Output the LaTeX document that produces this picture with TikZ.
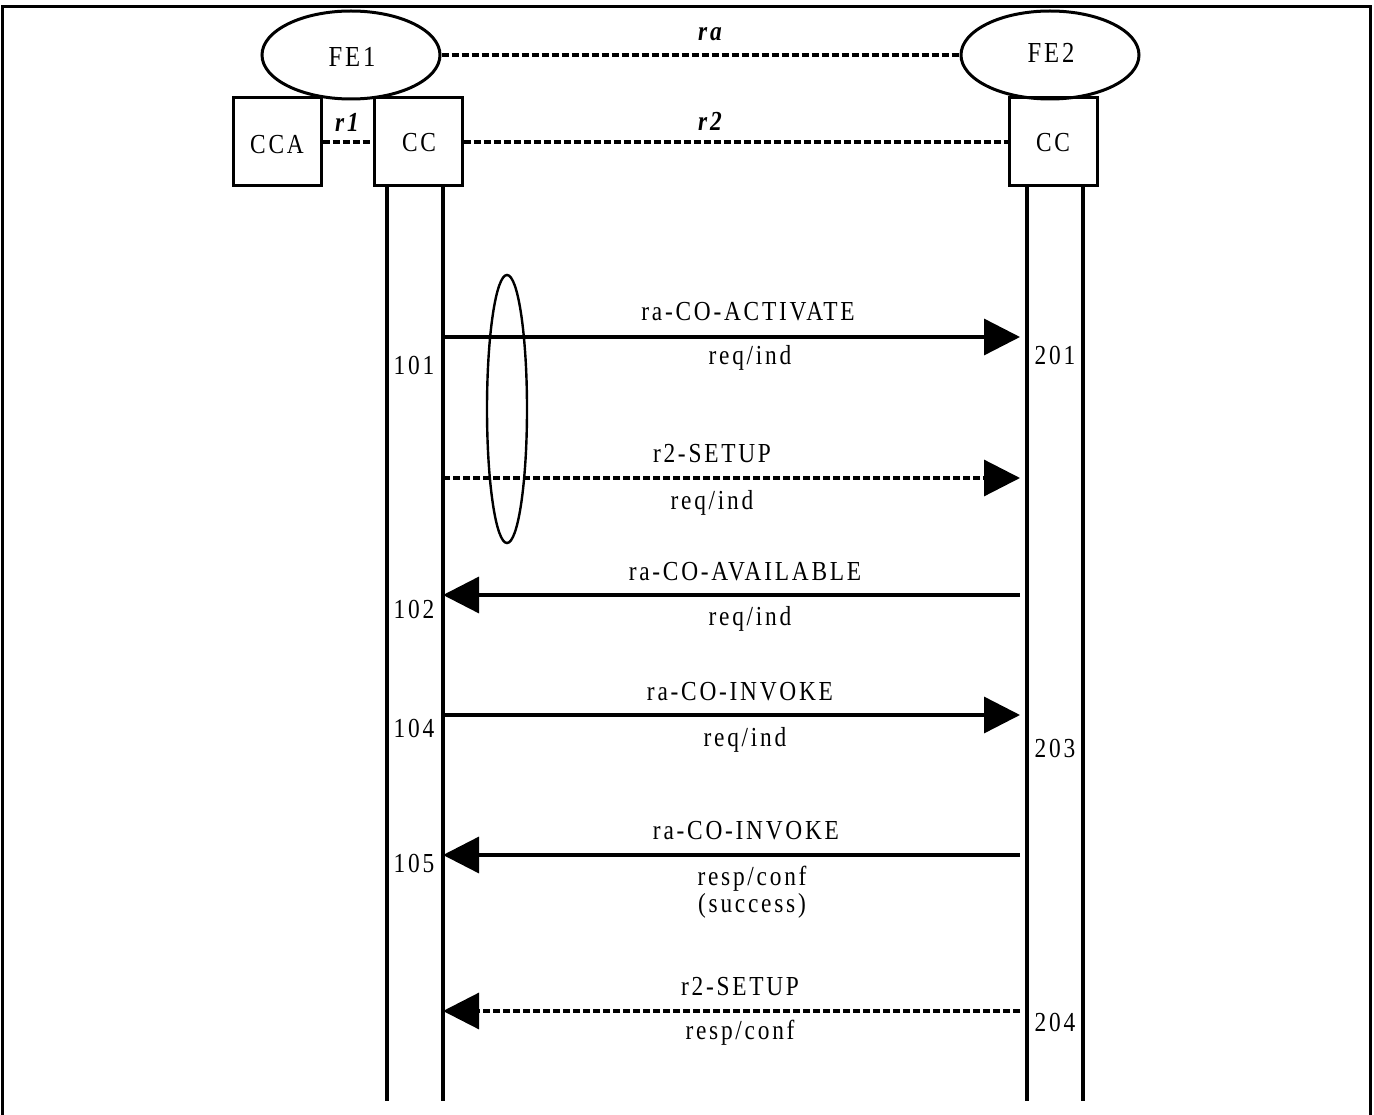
\documentclass[tikz,border=0pt]{standalone}
\usepackage{fontspec}
\setmainfont{Liberation Serif}[LetterSpace=10,FakeStretch=0.85]
\usetikzlibrary{arrows.meta,shapes.geometric}
\begin{document}
\begin{tikzpicture}[x=1pt,y=-1pt,
  every node/.style={inner sep=0pt,font=\fontsize{27.5}{32}\selectfont},
  fe/.style={draw,ellipse,line width=3pt,minimum width=178pt,minimum height=88pt},
  box/.style={draw,line width=3pt,minimum width=88pt,minimum height=88pt},
  rel/.style={line width=3.2pt,dash pattern=on 7pt off 3pt},
  rlab/.style={font=\fontsize{27.5}{32}\selectfont\bfseries\itshape},
  life/.style={line width=3.2pt},
  msg/.style={line width=3.4pt,-{Triangle[length=36pt,width=36pt]}},
  dmsg/.style={line width=3.2pt,dash pattern=on 7pt off 3pt,-{Triangle[length=36pt,width=36pt]}}
]
\useasboundingbox (0,0) rectangle (1374,1115);
\draw[line width=3pt] (2,1115) -- (2,7) -- (1370,7) -- (1370,1115);

% entities
\node[fe] (FE1) at (351,55) {};
\node[font=\fontsize{29}{34}\selectfont] (FE1t) at (352,57) {FE1};
\node[fe] (FE2) at (1050,55) {};
\node[font=\fontsize{29}{34}\selectfont] (FE2t) at (1051,53) {FE2};
\node[box] (CCA) at (277,142) {};
\node (CCAt) at (277,145) {CCA};
\node[box] (CC1) at (418,142) {};
\node (CC1t) at (419,143) {CC};
\node[box] (CC2) at (1053,142) {};
\node (CC2t) at (1053,143) {CC};

% relations
\draw[rel] (FE1.east) -- (FE2.west);
\node[rlab] (ra) at (710,34) {ra};
\draw[rel] (CCA.east) -- (CC1.west);
\node[rlab] (r1) at (347,122) {r1};
\draw[rel] (CC1.east) -- (CC2.west);
\node[rlab] (r2) at (710,121) {r2};

% lifelines
\coordinate (a1) at (387,186); \coordinate (a2) at (387,1101);
\coordinate (b1) at (443,186); \coordinate (b2) at (443,1101);
\coordinate (c1) at (1027,186); \coordinate (c2) at (1027,1101);
\coordinate (d1) at (1083,186); \coordinate (d2) at (1083,1101);
\draw[life] (a1) -- (a2);
\draw[life] (b1) -- (b2);
\draw[life] (c1) -- (c2);
\draw[life] (d1) -- (d2);

% grouping ellipse
\node[draw,ellipse,line width=2.4pt,minimum width=40pt,minimum height=268pt] (grp) at (507,409) {};

% message end points
\coordinate (L1) at (443,337); \coordinate (R1) at (1020,337);
\coordinate (L2) at (443,478); \coordinate (R2) at (1020,478);
\coordinate (L3) at (443,595); \coordinate (R3) at (1020,595);
\coordinate (L4) at (443,715); \coordinate (R4) at (1020,715);
\coordinate (L5) at (443,855); \coordinate (R5) at (1020,855);
\coordinate (L6) at (443,1011); \coordinate (R6) at (1020,1011);

\draw[msg] (L1) -- (R1);
\node (m1) at (748,312) {ra-CO-ACTIVATE};
\node (m1b) at (750,358) {req/ind};

\draw[dmsg] (L2) -- (R2);
\node (m2) at (712,454) {r2-SETUP};
\node (m2b) at (712,503) {req/ind};

\draw[msg] (R3) -- (L3);
\node (m3) at (745,572) {ra-CO-AVAILABLE};
\node (m3b) at (750,619) {req/ind};

\draw[msg] (L4) -- (R4);
\node (m4) at (740,692) {ra-CO-INVOKE};
\node (m4b) at (745,740) {req/ind};

\draw[msg] (R5) -- (L5);
\node (m5) at (746,831) {ra-CO-INVOKE};
\node (m5b) at (752,879) {resp/conf};
\node (m5c) at (752,906) {(success)};

\draw[dmsg] (R6) -- (L6);
\node (m6) at (740,987) {r2-SETUP};
\node (m6b) at (740,1033) {resp/conf};

% step numbers
\node (n101) at (414,365) {101};
\node (n102) at (414,609) {102};
\node (n104) at (414,728) {104};
\node (n105) at (414,863) {105};
\node (n201) at (1055,355) {201};
\node (n203) at (1055,748) {203};
\node (n204) at (1055,1022) {204};
\end{tikzpicture}
\end{document}
